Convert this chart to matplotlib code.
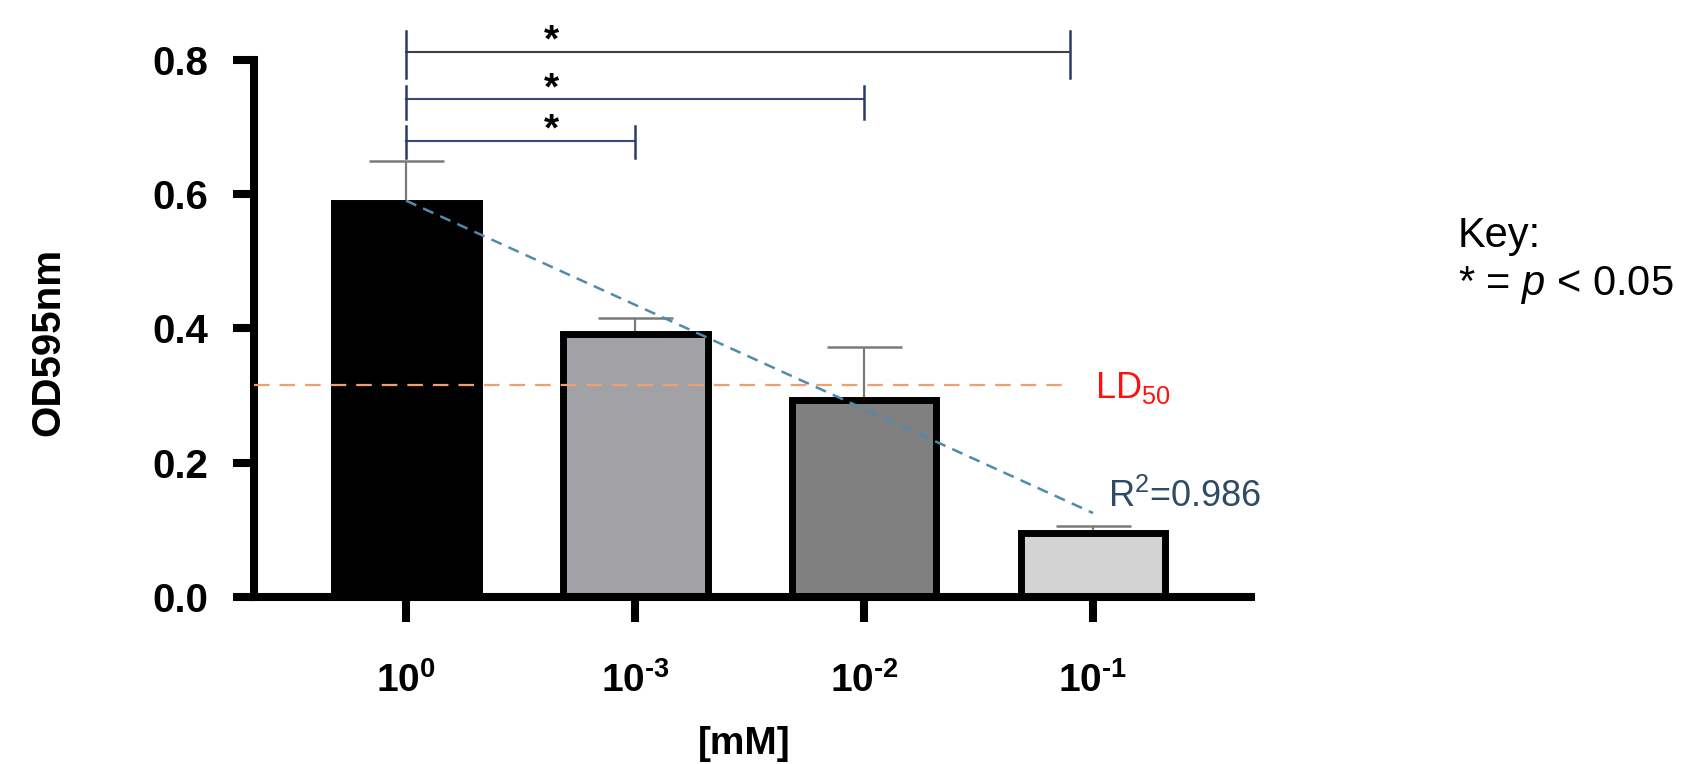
import matplotlib
matplotlib.use("Agg")
import matplotlib.pyplot as plt
import numpy as np

plt.rcParams['font.family'] = ['Liberation Sans', 'DejaVu Sans']
plt.rcParams['mathtext.fontset'] = 'custom'
plt.rcParams['mathtext.rm'] = 'Liberation Sans'
plt.rcParams['mathtext.it'] = 'Liberation Sans:italic'
plt.rcParams['mathtext.bf'] = 'Liberation Sans:bold'

# data
conc_labels = ['$\\mathbf{10^{0}}$', '$\\mathbf{10^{\u2010 3}}$', '$\\mathbf{10^{\u2010 2}}$', '$\\mathbf{10^{\u2010 1}}$']
od_mean = [0.587, 0.392, 0.293, 0.096]
od_sd = [0.062, 0.024, 0.079, 0.009]
bar_colors = ['#000000', '#A2A2A6', '#808080', '#D3D3D3']

ld50 = 0.315
r2 = 0.986
trend_x = [0, 3]
trend_y = [0.59, 0.125]

# significance brackets
sig_left = [0, 0, 0]
sig_right = [1, 2, 2.9]
sig_height = [0.679, 0.741, 0.812]
sig_tick_lo = [0.654, 0.712, 0.773]
sig_tick_hi = [0.701, 0.760, 0.842]
sig_line_colors = ['#3B4B7B', '#3B4B7B', '#404040']

fig = plt.figure(figsize=(16.91, 7.64), dpi=100)
ax = fig.add_axes([254 / 1691, 1 - 597 / 764, 997 / 1691, 571 / 764])

x = np.arange(len(od_mean))

# error bars (upper only), drawn behind the bars
ax.errorbar(x, od_mean, yerr=[np.zeros(len(od_sd)), od_sd], fmt='none',
            ecolor='#7A7A7A', elinewidth=1.6, capsize=27, capthick=1.8, zorder=1)

ax.bar(x, od_mean, width=0.633, color=bar_colors, edgecolor='black',
       linewidth=5, zorder=2)

# LD50 line
ax.plot([-0.664, 2.864], [ld50, ld50], color='#F0A070', linestyle=(0, (7, 4.5)),
        linewidth=1.6, zorder=3, clip_on=False)
ax.text(3.009, 0.296, 'LD$_{50}$', color='#FF1010', fontsize=26,
        ha='left', va='baseline')

# trend line
ax.plot(trend_x, trend_y, color='#4E8CAB', linestyle=(0, (4.5, 3)),
        linewidth=1.8, zorder=3)
ax.text(3.066, 0.134, 'R$^{2}$=%.3f' % r2, color='#2E4A66', fontsize=26,
        ha='left', va='baseline')

# significance brackets
for i in range(len(sig_height)):
    ax.plot([sig_left[i], sig_right[i]], [sig_height[i], sig_height[i]],
            color=sig_line_colors[i], linewidth=1.5, clip_on=False, zorder=4)
    for xe in (sig_left[i], sig_right[i]):
        ax.plot([xe, xe], [sig_tick_lo[i], sig_tick_hi[i]], color='#2B3A67',
                linewidth=1.8, clip_on=False, zorder=4)
    ax.text(0.635, sig_height[i], '*', fontsize=28, fontweight='bold',
            ha='center', va='baseline', clip_on=False)

ax.set_xlim(-0.664, 3.690)
ax.set_ylim(0, 0.85)
ax.set_xticks(x)
ax.set_xticklabels(conc_labels)
ax.set_yticks([0, 0.2, 0.4, 0.6, 0.8])
ax.set_yticklabels(['0.0', '0.2', '0.4', '0.6', '0.8'])
for lab in ax.get_yticklabels():
    lab.set_fontweight('bold')

ax.spines['top'].set_visible(False)
ax.spines['right'].set_visible(False)
ax.spines['left'].set_linewidth(5.8)
ax.spines['bottom'].set_linewidth(5.8)
ax.spines['left'].set_bounds(0, 0.8)

ax.tick_params(axis='y', direction='out', length=15, width=5.8, pad=18, labelsize=29)
ax.tick_params(axis='x', direction='out', length=18, width=5.8, pad=29, labelsize=28)

fig.text(48 / 1691, 1 - 342 / 764, 'OD595nm', rotation=90, fontsize=29,
         fontweight='bold', ha='center', va='center')
fig.text(744 / 1691, 1 - 744 / 764, '[mM]', fontsize=28, fontweight='bold',
         ha='center', va='center')

fig.text(1458 / 1691, 1 - 247 / 764, 'Key:', fontsize=30, va='baseline')
fig.text(1458 / 1691, 1 - 295 / 764, '* = $p$ < 0.05', fontsize=30, va='baseline')

fig.savefig('out.png', dpi=100)
